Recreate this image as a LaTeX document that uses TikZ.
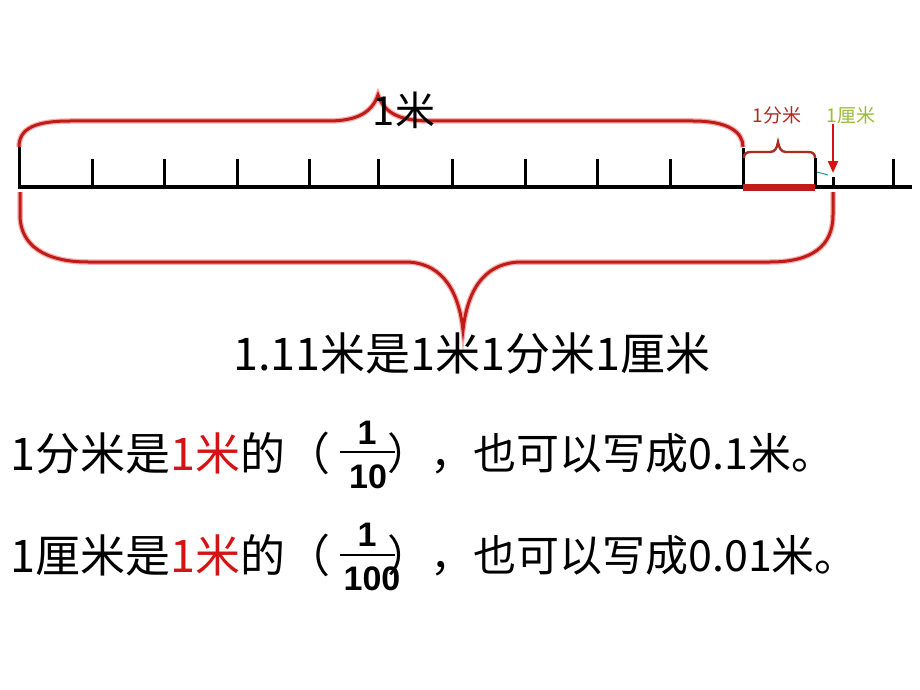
\documentclass[tikz,border=0pt]{standalone}
\usepackage{fontspec}
\setmainfont{Noto Sans CJK SC}
\newfontfamily\fracfont{Liberation Sans}
\usetikzlibrary{arrows.meta}

\definecolor{bracered}{RGB}{190,28,24}
\definecolor{glowred}{RGB}{248,175,175}
\definecolor{dmred}{RGB}{170,45,35}
\definecolor{cmgreen}{RGB}{155,187,60}
\definecolor{textred}{RGB}{212,20,20}
\definecolor{tealmark}{RGB}{40,140,150}

\tikzset{every picture/.style={line width=0.75pt},
  axisline/.style={line width=4.8pt},
  scaletick/.style={line width=3pt},
  bigbrace/.style={draw=bracered,line width=3pt,preaction={draw=glowred,line width=5.5pt}},
  smallbrace/.style={draw=dmred,line width=2.4pt},
  cmarrow/.style={draw=textred,line width=2.2pt,-{Triangle[length=12pt,width=10pt]}},
  txt/.style={inner sep=0pt,font=\fontsize{43}{50}\selectfont},
  fracnum/.style={inner sep=0pt,font=\fracfont\bfseries\fontsize{34}{38}\selectfont}}

\begin{document}
\begin{tikzpicture}[x=1pt,y=1pt,yscale=-1]
\useasboundingbox (0,0) rectangle (920,690);

%Straight Lines
\draw[axisline] (18,187) -- (912,187);
\foreach \x/\t in {19/147,92/159,164/159,237/159,309/159,378/159,452/159,525/159,597/159,670/159,743/148,815/158,893/159}
  \draw[scaletick] (\x,\t) -- (\x,187);
\draw[scaletick] (833,177) -- (833,187);
\coordinate (cmtick) at (833,173);
\coordinate (cmtop) at (833,124);

%Rectangle
\fill[bracered] (743,184) rectangle (815,191);

%Curve Lines
\draw[bigbrace] (19,147) .. controls (19,128) and (36,121) .. (70,121) -- (328,121) .. controls (358,121) and (372,112) .. (378,95) .. controls (384,112) and (398,121) .. (430,121) -- (693,121) .. controls (728,121) and (743,132) .. (743,147);
\draw[smallbrace] (744,158) .. controls (744,154) and (746,152) .. (751,152) -- (770,152) .. controls (775,152) and (777,148) .. (778,142) .. controls (779,148) and (781,152) .. (786,152) -- (808,152) .. controls (813,152) and (815,154) .. (815,158);
\draw[bigbrace] (833,192) -- (833,215) .. controls (833,246) and (812,262) .. (770,262) -- (522,262) .. controls (488,262) and (468,285) .. (463,330) .. controls (458,285) and (438,262) .. (405,262) -- (88,262) .. controls (46,262) and (20,246) .. (20,215) -- (20,192);
\draw[tealmark,line width=1pt] (817,172) -- (828,175);

%Arrow
\draw[cmarrow] (cmtop) -- (cmtick);

% Text Node
\node[txt,font=\fontsize{40}{46}\selectfont] (mlabel) at (404,110) {1米};
% Text Node
\node[inner sep=0pt,text=dmred,font=\fontsize{19}{22}\selectfont] (dmlabel) at (777,115) {1分米};
% Text Node
\node[inner sep=0pt,text=cmgreen,font=\fontsize{19}{22}\selectfont] (cmlabel) at (851,115) {1厘米};
% Text Node
\node[txt,font=\fontsize{45}{52}\selectfont] (total) at (472,353) {1.11米是1米1分米1厘米};

% Text Node
\node[txt,anchor=west,font=\fontsize{45}{52}\selectfont] (dmleft) at (10,453) {1分米是\textcolor{textred}{1米}的（};
\node[fracnum] (dmnum) at (367,433) {1};
\node[fracnum] (dmden) at (368,477) {10};
\draw[line width=2.5pt] (340,452) -- (395,452);
\node[txt,anchor=west] (dmright) at (387,453) {），也可以写成0.1米。};

% Text Node
\node[txt,anchor=west,font=\fontsize{45}{52}\selectfont] (cmleft) at (10,555) {1厘米是\textcolor{textred}{1米}的（};
\node[fracnum] (cmnum) at (367,535) {1};
\node[fracnum] (cmden) at (372,579) {100};
\draw[line width=2.5pt] (340,555) -- (395,555);
\node[txt,anchor=west] (cmright) at (387,555) {），也可以写成0.01米。};

\end{tikzpicture}
\end{document}
